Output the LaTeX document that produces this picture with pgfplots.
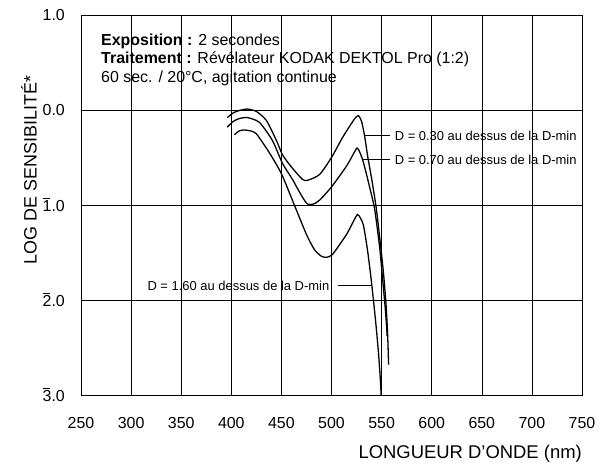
\documentclass[border=0pt]{standalone}
\usepackage{fontspec}
\setmainfont{Liberation Sans}
\usepackage{pgfplots}
\pgfplotsset{compat=1.18}
\newcommand{\nbar}[1]{\makebox[0pt][l]{\raisebox{0.85em}{\rule{0.45em}{0.6pt}}}#1}
\begin{document}
\begin{tikzpicture}
\begin{axis}[
  scale only axis, width=501bp, height=380bp,
  xmin=250, xmax=750, ymin=-3, ymax=1,
  xtick={250,300,...,750}, ytick={-3,-2,-1,0,1},
  yticklabels={\nbar{3}.0,\nbar{2}.0,\nbar{1}.0,0.0,1.0},
  grid=major, major grid style={black, line width=0.6pt},
  major tick length=0pt,
  axis line style={black, line width=0.8pt},
  tick label style={font=\fontsize{16}{19}\selectfont},
  /pgf/number format/assume math mode=true,
  /pgf/number format/1000 sep={},
  xticklabel style={anchor=center, yshift=-28bp},
  yticklabel style={anchor=east, inner sep=0pt, xshift=-16bp},
  ylabel={LOG DE SENSIBILITÉ*},
  ylabel style={at={(rel axis cs:0,0.5)}, anchor=center, yshift=52bp, xshift=35bp, font=\fontsize{18}{21}\selectfont},
  xlabel={LONGUEUR D'ONDE (nm)},
  xlabel style={at={(rel axis cs:1,0)}, anchor=east, inner sep=0pt, xshift=0bp, yshift=-59bp, font=\fontsize{18.5}{21}\selectfont},
  every axis plot/.append style={black, line width=1.3pt},
  clip=false,
]
\coordinate (O) at (rel axis cs:0,0);
% D = 0.30
\addplot[smooth, tension=0.4] coordinates {
(396,-0.08) (402,-0.03) (408,-0.005) (416,0.01) (425,-0.015) (435,-0.11)
(445,-0.32) (451,-0.47) (460,-0.60) (471,-0.73) (476,-0.74) (488,-0.68)
(500,-0.50) (511,-0.29) (520,-0.14) (524,-0.08) (527,-0.06) (530,-0.12)
(533,-0.27) (536,-0.48) (540,-0.72) (544.5,-1.02) (548.5,-1.38) (552,-1.73)
(554.5,-2.06) (556,-2.36) (557,-2.68)};
% D = 0.70
\addplot[smooth, tension=0.4] coordinates {
(396,-0.18) (402,-0.12) (408,-0.09) (416,-0.08) (428,-0.13) (441,-0.32)
(451,-0.56) (461,-0.73) (470,-0.90) (476,-0.99) (482,-0.99) (488,-0.95)
(500,-0.81) (515,-0.59) (522,-0.46) (525.5,-0.40) (528,-0.44) (531,-0.52)
(535,-0.68) (538,-0.81) (543,-1.04) (548,-1.44) (551,-1.78) (553.5,-2.07)
(555,-2.28) (555.5,-2.38)};
% D = 1.60
\addplot[smooth, tension=0.4] coordinates {
(403,-0.26) (408,-0.22) (413,-0.21) (419,-0.22) (425,-0.25) (438,-0.45)
(450,-0.67) (461,-0.95) (475,-1.31) (483,-1.47) (490,-1.54) (495,-1.55)
(501,-1.52) (515,-1.31) (522,-1.17) (526,-1.10) (529,-1.14) (532,-1.22)
(536,-1.48) (540,-1.82) (544,-2.22) (547,-2.57) (549,-2.88) (549.5,-3.0)};
% leader lines
\addplot[line width=0.7pt] coordinates {(533,-0.27) (558,-0.27)};
\addplot[line width=0.7pt] coordinates {(531,-0.52) (558,-0.52)};
\addplot[line width=0.7pt] coordinates {(506,-1.85) (540,-1.85)};
\node[anchor=west, inner sep=0pt, font=\fontsize{13}{15}\selectfont] at (axis cs:563,-0.27) {D = 0.30 au dessus de la D-min};
\node[anchor=west, inner sep=0pt, font=\fontsize{13}{15}\selectfont] at (axis cs:563,-0.52) {D = 0.70 au dessus de la D-min};
\node[anchor=east, inner sep=0pt, font=\fontsize{13}{15}\selectfont] at (axis cs:498,-1.85) {D = 1.60 au dessus de la D-min};
% header
\node[anchor=base west, inner sep=0pt, font=\fontsize{16}{19}\selectfont] at (axis cs:270,0.68) {\textbf{Exposition :} 2 secondes};
\node[anchor=base west, inner sep=0pt, font=\fontsize{16}{19}\selectfont] at (axis cs:270,0.49) {\textbf{Traitement :} Révélateur KODAK DEKTOL Pro (1:2)};
\node[anchor=base west, inner sep=0pt, font=\fontsize{16}{19}\selectfont] at (axis cs:270,0.29) {60 sec. / 20°C, agitation continue};
\end{axis}
\pgfresetboundingbox
\path (O) ++(-81bp,-73bp) rectangle ++(600bp,468bp);
\end{tikzpicture}
\end{document}
